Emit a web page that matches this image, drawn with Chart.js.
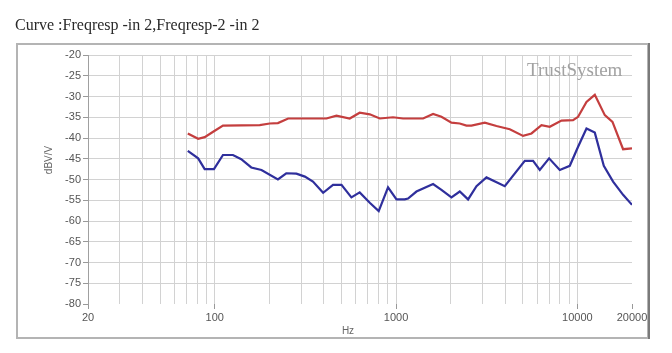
<!DOCTYPE html>
<html>
<head>
<meta charset="utf-8">
<script src="https://cdn.jsdelivr.net/npm/chart.js@4.4.1/dist/chart.umd.min.js"></script>
<style>
  html, body { margin: 0; padding: 0; background: #fff; }
  canvas { display: block; }
</style>
</head>
<body>
<canvas id="grafico" width="672" height="353"></canvas>
<script>
// ------------ Dados ------------ //

var freqVermelho = [71, 81, 88, 98, 111, 177, 201, 223, 254, 413, 469, 555, 630, 716, 813, 962, 1093, 1409, 1600, 1779,
    2020, 2245, 2444, 2604, 3085, 3578, 4237, 5016, 5581, 6337, 7040, 8168, 9465, 10085, 11220, 12470, 14160, 15610, 17860, 20000];
var dbVermelho = [-38.9, -40.2, -39.8, -38.5, -37.0, -36.9, -36.5, -36.4, -35.3, -35.3, -34.6, -35.3, -33.9, -34.3, -35.3, -35.0, -35.3, -35.3, -34.2, -34.9,
    -36.3, -36.5, -37.0, -37.0, -36.3, -37.1, -37.9, -39.5, -38.9, -36.9, -37.3, -35.8, -35.7, -34.9, -31.3, -29.6, -34.5, -36.1, -42.7, -42.5];

var freqAzul = [71, 81, 88, 99, 111, 126, 140, 159, 181, 223, 248, 282, 314, 348, 396, 449, 500, 567, 630, 716,
    802, 903, 1005, 1116, 1164, 1295, 1600, 1779, 2020, 2245, 2495, 2776, 3151, 3976, 5126, 5695, 6202, 6979, 7995, 9077,
    10085, 11220, 12470, 13980, 15730, 17860, 20000];
var dbAzul = [-43.1, -44.9, -47.5, -47.5, -44.1, -44.1, -45.1, -47.1, -47.7, -50.0, -48.5, -48.6, -49.3, -50.5, -53.2, -51.3, -51.3, -54.3, -53.1, -55.6,
    -57.6, -51.9, -54.8, -54.8, -54.6, -52.9, -51.1, -52.5, -54.3, -52.9, -54.8, -51.6, -49.5, -51.6, -45.5, -45.5, -47.7, -44.9, -47.7, -46.7,
    -42.1, -37.7, -38.7, -46.7, -50.5, -53.7, -56.1];

var ticksX = [20, 30, 40, 50, 60, 70, 80, 90, 100, 200, 300, 400, 500, 600, 700, 800, 900,
    1000, 2000, 3000, 4000, 5000, 6000, 7000, 8000, 9000, 10000, 20000];
var rotulosX = [20, 100, 1000, 10000, 20000];

var titulo = 'Curve :Freqresp -in 2,Freqresp-2 -in 2';
var tituloY = 'dBV/V';
var tituloX = 'Hz';
var marcaDagua = 'TrustSystem';

function montarPontos(freqs, valores) {
    return freqs.map(function (f, i) { return { x: f, y: valores[i] }; });
}

// ------------ Plugin: moldura, títulos e marca d'água ------------ //

var pluginMoldura = {
    id: 'moldura',
    beforeDraw: function (chart) {
        var c = chart.ctx;
        c.save();
        c.fillStyle = '#fff';
        c.fillRect(0, 0, chart.width, chart.height);
        c.restore();
    },
    beforeDatasetsDraw: function (chart) {
        var c = chart.ctx;
        c.save();
        c.font = '19px "Liberation Serif"';
        c.fillStyle = '#a2a2a2';
        c.textBaseline = 'alphabetic';
        c.fillText(marcaDagua, 527, 76);
        c.restore();
    },
    afterDraw: function (chart) {
        var c = chart.ctx;
        c.save();
        // moldura
        c.strokeStyle = '#b4b4b4';
        c.lineWidth = 2;
        c.strokeRect(17, 44, 631, 294);
        c.strokeStyle = '#7a7a7a';
        c.lineWidth = 2;
        c.beginPath();
        c.moveTo(649, 43);
        c.lineTo(649, 339);
        c.stroke();
        // título
        c.font = '16px "Liberation Serif"';
        c.fillStyle = '#2a2a2a';
        c.textBaseline = 'alphabetic';
        c.fillText(titulo, 15, 30);
        // eixo y
        c.font = '10px "Liberation Sans"';
        c.fillStyle = '#666';
        c.translate(49, 160);
        c.rotate(-Math.PI / 2);
        c.textAlign = 'center';
        c.textBaseline = 'middle';
        c.fillText(tituloY, 0, 0);
        c.restore();
        // eixo x
        c.save();
        c.font = '10px "Liberation Sans"';
        c.fillStyle = '#666';
        c.textAlign = 'center';
        c.textBaseline = 'middle';
        c.fillText(tituloX, 348, 331);
        c.restore();
    }
};

// ------------ Configuração do gráfico ------------ //

var ctx = document.getElementById('grafico').getContext('2d');
var grafico = new Chart(ctx, {
    type: 'line',
    data: {
        datasets: [{
            label: 'Freqresp -in 2',
            data: montarPontos(freqVermelho, dbVermelho),
            borderColor: '#c43e3e',
            borderWidth: 2.2,
            pointRadius: 0,
            tension: 0
        }, {
            label: 'Freqresp-2 -in 2',
            data: montarPontos(freqAzul, dbAzul),
            borderColor: '#2f2f9c',
            borderWidth: 2.2,
            pointRadius: 0,
            tension: 0
        }]
    },
    options: {
        responsive: false,
        animation: false,
        devicePixelRatio: 1,
        layout: { padding: { left: 0, top: 55, right: 40, bottom: 0 } },
        plugins: {
            legend: { display: false },
            tooltip: { enabled: false }
        },
        scales: {
            x: {
                type: 'logarithmic',
                min: 20,
                max: 20000,
                afterBuildTicks: function (scale) {
                    scale.ticks = ticksX.map(function (v) { return { value: v }; });
                },
                afterFit: function (scale) { scale.height = 49; },
                border: { display: false },
                grid: {
                    color: function (c) {
                        var v = c.tick && c.tick.value;
                        return (v === 20 || v === 20000) ? 'rgba(0,0,0,0)' : '#d2d2d2';
                    },
                    tickColor: function (c) {
                        var v = c.tick && c.tick.value;
                        return rotulosX.indexOf(v) >= 0 ? '#999' : 'rgba(0,0,0,0)';
                    },
                    tickLength: 5
                },
                ticks: {
                    autoSkip: false,
                    maxRotation: 0,
                    padding: 2,
                    color: '#555',
                    font: { family: 'Liberation Sans', size: 11 },
                    callback: function (v) {
                        return rotulosX.indexOf(v) >= 0 ? String(v) : '';
                    }
                }
            },
            y: {
                min: -80,
                max: -20,
                afterFit: function (scale) { scale.width = 88; },
                border: { display: true, color: '#a0a0a0', width: 1 },
                grid: {
                    color: function (c) {
                        return (c.tick && c.tick.value === -80) ? 'rgba(0,0,0,0)' : '#d2d2d2';
                    },
                    tickColor: '#999',
                    tickLength: 5
                },
                ticks: {
                    stepSize: 5,
                    padding: 2,
                    color: '#555',
                    font: { family: 'Liberation Sans', size: 11 }
                }
            }
        }
    },
    plugins: [pluginMoldura]
});
</script>
</body>
</html>
